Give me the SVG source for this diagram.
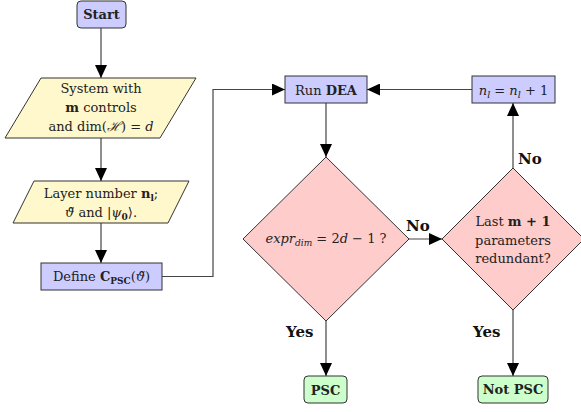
<svg xmlns="http://www.w3.org/2000/svg" width="581" height="412" viewBox="0 0 581 412">
<defs>
<marker id="ah" markerUnits="userSpaceOnUse" markerWidth="14" markerHeight="12" viewBox="0 0 14 12" refX="13" refY="6" orient="auto">
<path d="M0,0 L13,6 L0,12 z" fill="#000"/>
</marker>
<style>
.t{font-family:"DejaVu Serif","Liberation Serif",serif;font-size:13px;fill:#222;text-anchor:middle}
.b{font-weight:bold}
.i{font-style:italic}
.lbl{font-family:"DejaVu Serif","Liberation Serif",serif;font-size:15px;font-weight:bold;fill:#111}
.blue{fill:#ccccff;stroke:#333;stroke-width:1}
.yel{fill:#fff8cc;stroke:#333;stroke-width:1}
.pink{fill:#ffcccc;stroke:#333;stroke-width:1}
.green{fill:#ccffcc;stroke:#333;stroke-width:1}
.c{fill:none;stroke:#444;stroke-width:1.2;marker-end:url(#ah)}
</style>
</defs>
<rect width="581" height="412" fill="#fff"/>
<g id="connectors">
<path class="c" d="M101,28 V78"/>
<path class="c" d="M101,138 V181"/>
<path class="c" d="M101,223 V263"/>
<path class="c" d="M162,276.5 H213 V89.5 H285"/>
<path class="c" d="M326,103 V157"/>
<path class="c" d="M409,239 H442"/>
<path class="c" d="M513,168 V103"/>
<path class="c" d="M472,89.5 H367"/>
<path class="c" d="M326,321 V376"/>
<path class="c" d="M513,310 V376"/>
<text class="lbl" x="406" y="231">No</text>
<text class="lbl" x="518" y="164">No</text>
<text class="lbl" x="286" y="337">Yes</text>
<text class="lbl" x="473" y="337">Yes</text>
</g>
<g id="start">
<rect class="blue" x="77" y="1" width="49" height="27" rx="4"/>
<text class="t b" x="101.5" y="19">Start</text>
</g>
<g id="system">
<polygon class="yel" points="41,78 196,78 160,138 5,138"/>
<text class="t" x="101" y="93">System with</text>
<text class="t" x="101" y="112"><tspan class="b">m</tspan> controls</text>
<text class="t" x="101" y="131">and dim(<tspan class="i">ℋ</tspan>) = <tspan class="i">d</tspan></text>
</g>
<g id="layer">
<polygon class="yel" points="34,181 189,181 168,223 13,223"/>
<text class="t" x="101" y="198">Layer number <tspan class="b">n</tspan><tspan class="b" font-size="9" dy="3">l</tspan><tspan dy="-3">;</tspan></text>
<text class="t" x="101" y="217"><tspan class="i">ϑ̃</tspan> and |<tspan class="i">ψ</tspan><tspan class="b" font-size="9" dy="3">0</tspan><tspan dy="-3">⟩.</tspan></text>
</g>
<g id="define">
<rect class="blue" x="41" y="263" width="121" height="27"/>
<text class="t" x="101.5" y="281">Define <tspan class="b">C</tspan><tspan class="b" font-size="9" dy="3">PSC</tspan><tspan dy="-3">(</tspan><tspan class="i">ϑ̃</tspan>)</text>
</g>
<g id="rundea">
<rect class="blue" x="285" y="76" width="82" height="27"/>
<text class="t" x="326" y="94.5" font-size="14">Run <tspan class="b">DEA</tspan></text>
</g>
<g id="increment">
<rect class="blue" x="472" y="76" width="83" height="27"/>
<text class="t" x="513.5" y="94.5" font-size="14"><tspan class="i">n</tspan><tspan class="i" font-size="9.5" dy="3">l</tspan><tspan dy="-3"> = </tspan><tspan class="i">n</tspan><tspan class="i" font-size="9.5" dy="3">l</tspan><tspan dy="-3"> + 1</tspan></text>
</g>
<g id="check-dim">
<polygon class="pink" points="326,157 409,239 326,321 243,239"/>
<text class="t" x="326" y="243"><tspan class="i">expr</tspan><tspan class="i" font-size="9" dy="3">dim</tspan><tspan dy="-3"> = 2</tspan><tspan class="i">d</tspan> − 1 ?</text>
</g>
<g id="check-redundant">
<polygon class="pink" points="513,168 584,239 513,310 442,239"/>
<text class="t" x="513" y="226">Last <tspan class="b">m + 1</tspan></text>
<text class="t" x="513" y="245">parameters</text>
<text class="t" x="513" y="263">redundant?</text>
</g>
<g id="psc">
<rect class="green" x="304" y="376" width="43" height="27" rx="4"/>
<text class="t b" x="325.5" y="394.5" font-size="14">PSC</text>
</g>
<g id="notpsc">
<rect class="green" x="478" y="376" width="70" height="27" rx="4"/>
<text class="t b" x="513" y="393.5" font-size="10">Not PSC</text>
</g>
</svg>
